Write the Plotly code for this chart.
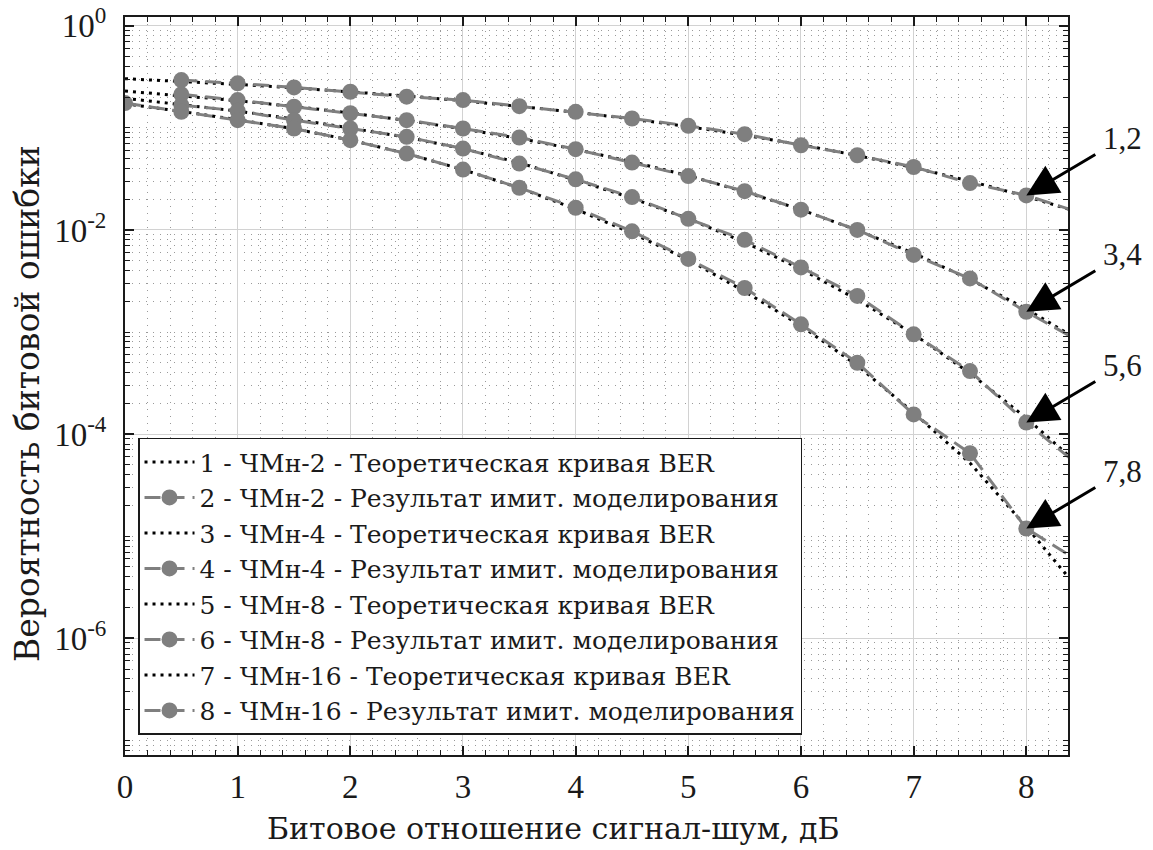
import math
import plotly.graph_objects as go

# ---------------- data ----------------
snr_db = [0, 0.5, 1, 1.5, 2, 2.5, 3, 3.5, 4, 4.5, 5, 5.5, 6, 6.5, 7, 7.5, 8, 8.5]

theory_fsk2 = [0.3033, 0.2853, 0.2664, 0.2467, 0.2264, 0.2055, 0.1844, 0.1633, 0.1424,
               0.1222, 0.1029, 0.0848, 0.0683, 0.0536, 0.0408, 0.0301, 0.0213, 0.0145]
theory_fsk4 = [0.2294, 0.2073, 0.1847, 0.1621, 0.1399, 0.1182, 0.0978, 0.0787, 0.0616,
               0.0466, 0.0340, 0.0237, 0.0158, 0.00996, 0.00592, 0.00328, 0.001684, 0.000794]
theory_fsk8 = [0.195, 0.170, 0.146, 0.122, 0.100, 0.081, 0.0625, 0.0455, 0.0308,
               0.0205, 0.0129, 0.00757, 0.00414, 0.00208, 0.000954, 0.000395, 0.000144, 0.0000466]
theory_fsk16 = [0.172, 0.145, 0.120, 0.098, 0.076, 0.056, 0.039, 0.0258, 0.0160,
                0.0093, 0.0051, 0.0025, 0.00115, 0.00047, 0.000162, 0.000052, 0.0000124, 0.0000027]

sim_fsk2 = [None, 0.294, 0.273, 0.249, 0.226, 0.202, 0.187, 0.163, 0.1436,
            0.1236, 0.1047, 0.0867, 0.0676, 0.0539, 0.0414, 0.0288, 0.0218, 0.0145]
sim_fsk4 = [None, 0.213, 0.187, 0.161, 0.139, 0.119, 0.0986, 0.0805, 0.0618,
            0.0457, 0.0337, 0.0240, 0.0158, 0.0100, 0.00569, 0.00335, 0.00158, 0.00078]
sim_fsk8 = [None, 0.167, 0.147, 0.119, 0.0986, 0.0817, 0.0627, 0.0447, 0.0313,
            0.0210, 0.01285, 0.0080, 0.0043, 0.00226, 0.00095, 0.000415, 0.00013, 0.000046]
sim_fsk16 = [0.175, 0.1436, 0.119, 0.0986, 0.0757, 0.056, 0.039, 0.0259, 0.0165,
             0.0097, 0.0052, 0.0027, 0.00119, 0.00050, 0.000156, 0.000065, 0.0000119, 0.0000054]

legend_names = [
    "1 - ЧМн-2 - Теоретическая кривая BER",
    "2 - ЧМн-2 - Результат имит. моделирования",
    "3 - ЧМн-4 - Теоретическая кривая BER",
    "4 - ЧМн-4 - Результат имит. моделирования",
    "5 - ЧМн-8 - Теоретическая кривая BER",
    "6 - ЧМн-8 - Результат имит. моделирования",
    "7 - ЧМн-16 - Теоретическая кривая BER",
    "8 - ЧМн-16 - Результат имит. моделирования",
]
arrow_labels = ["1,2", "3,4", "5,6", "7,8"]
arrow_snr = 8

x_ticks = [0, 1, 2, 3, 4, 5, 6, 7, 8]
y_major_exp = [0, -2, -4, -6]
y_ticktext = ["10<sup>0</sup>", "10<sup>-2</sup>", "10<sup>-4</sup>", "10<sup>-6</sup>"]

x_title = "Битовое отношение сигнал-шум, дБ"
y_title = "Вероятность битовой ошибки"

# ---------------- figure ----------------
NUM_FONT = "Liberation Serif, Times New Roman, serif"
TXT_FONT = "DejaVu Serif, Liberation Serif, serif"
INK = "#1a1a1a"
GRAY = "#7f7f7f"

theory = [theory_fsk2, theory_fsk4, theory_fsk8, theory_fsk16]
sims = [sim_fsk2, sim_fsk4, sim_fsk8, sim_fsk16]

fig = go.Figure()
for i in range(4):
    fig.add_trace(go.Scatter(
        x=snr_db, y=theory[i], mode="lines", name=legend_names[2 * i],
        line=dict(color="black", width=3, dash="3px,5px"),
    ))
    fig.add_trace(go.Scatter(
        x=snr_db, y=sims[i], mode="lines+markers", name=legend_names[2 * i + 1],
        line=dict(color=GRAY, width=3, dash="16px,8px"),
        marker=dict(color=GRAY, size=16, symbol="circle", line=dict(width=0)),
    ))

# labelled arrows pointing at the x = 8 dB points
idx = snr_db.index(arrow_snr)
for lab, s in zip(arrow_labels, sims):
    yv = math.log10(s[idx])
    fig.add_annotation(x=arrow_snr, y=yv, xref="x", yref="y", text=lab,
                       showarrow=True, ax=96, ay=-57, axref="pixel", ayref="pixel",
                       arrowhead=2, arrowsize=2.1, arrowwidth=3, arrowcolor="black",
                       standoff=0, borderpad=7,
                       font=dict(family=NUM_FONT, size=31, color=INK))

# axis titles (placed where the reference shows them)
fig.add_annotation(x=0.4539, y=-0.126, xref="paper", yref="paper", text=x_title,
                   showarrow=False, xanchor="center", yanchor="bottom",
                   font=dict(family=TXT_FONT, size=30, color=INK))
fig.add_annotation(x=-0.1039, y=0.4756, xref="paper", yref="paper", text=y_title,
                   showarrow=False, xanchor="center", yanchor="middle", textangle=-90,
                   font=dict(family=TXT_FONT, size=33, color=INK))

y_tickvals = [10.0 ** e for e in y_major_exp]
y_minor = [m * 10.0 ** e for e in range(-8, 1) for m in range(1, 10)
           if not (m == 1 and e in y_major_exp)]

axis_common = dict(
    showline=True, linecolor=INK, linewidth=2, mirror="allticks",
    ticks="inside", ticklen=9, tickwidth=1.5, tickcolor=INK,
    showgrid=True, gridcolor="#d2d2d2", gridwidth=1.2, zeroline=False,
    automargin=False,
    tickfont=dict(family=NUM_FONT, size=33, color=INK),
)
minor_common = dict(ticks="inside", ticklen=5, tickwidth=1.2, tickcolor=INK,
                    showgrid=True, gridcolor="#9a9a9a", griddash="1px,6px",
                    gridwidth=1.2)

fig.update_layout(
    width=1153, height=850,
    margin=dict(l=125, r=85, t=17, b=95),
    paper_bgcolor="white", plot_bgcolor="white",
    font=dict(family=TXT_FONT, color=INK),
    showlegend=True,
    legend=dict(x=0.0138, y=0.0275, xanchor="left", yanchor="bottom",
                bgcolor="white", bordercolor=INK, borderwidth=1.5,
                font=dict(family=TXT_FONT, size=25, color=INK),
                itemwidth=50, tracegroupgap=0),
    xaxis=dict(
        range=[0, 8.37], tickmode="array", tickvals=x_ticks,
        ticktext=[str(v) for v in x_ticks], ticklabelstandoff=1,
        minor=dict(dtick=0.2, tick0=0, **minor_common),
        **axis_common,
    ),
    yaxis=dict(
        type="log", range=[-7.143, 0.086], tickmode="array",
        tickvals=y_tickvals, ticktext=y_ticktext, ticklabelstandoff=10,
        minor=dict(tickmode="array", tickvals=y_minor, **minor_common),
        **axis_common,
    ),
)

fig.write_html("out.html")
